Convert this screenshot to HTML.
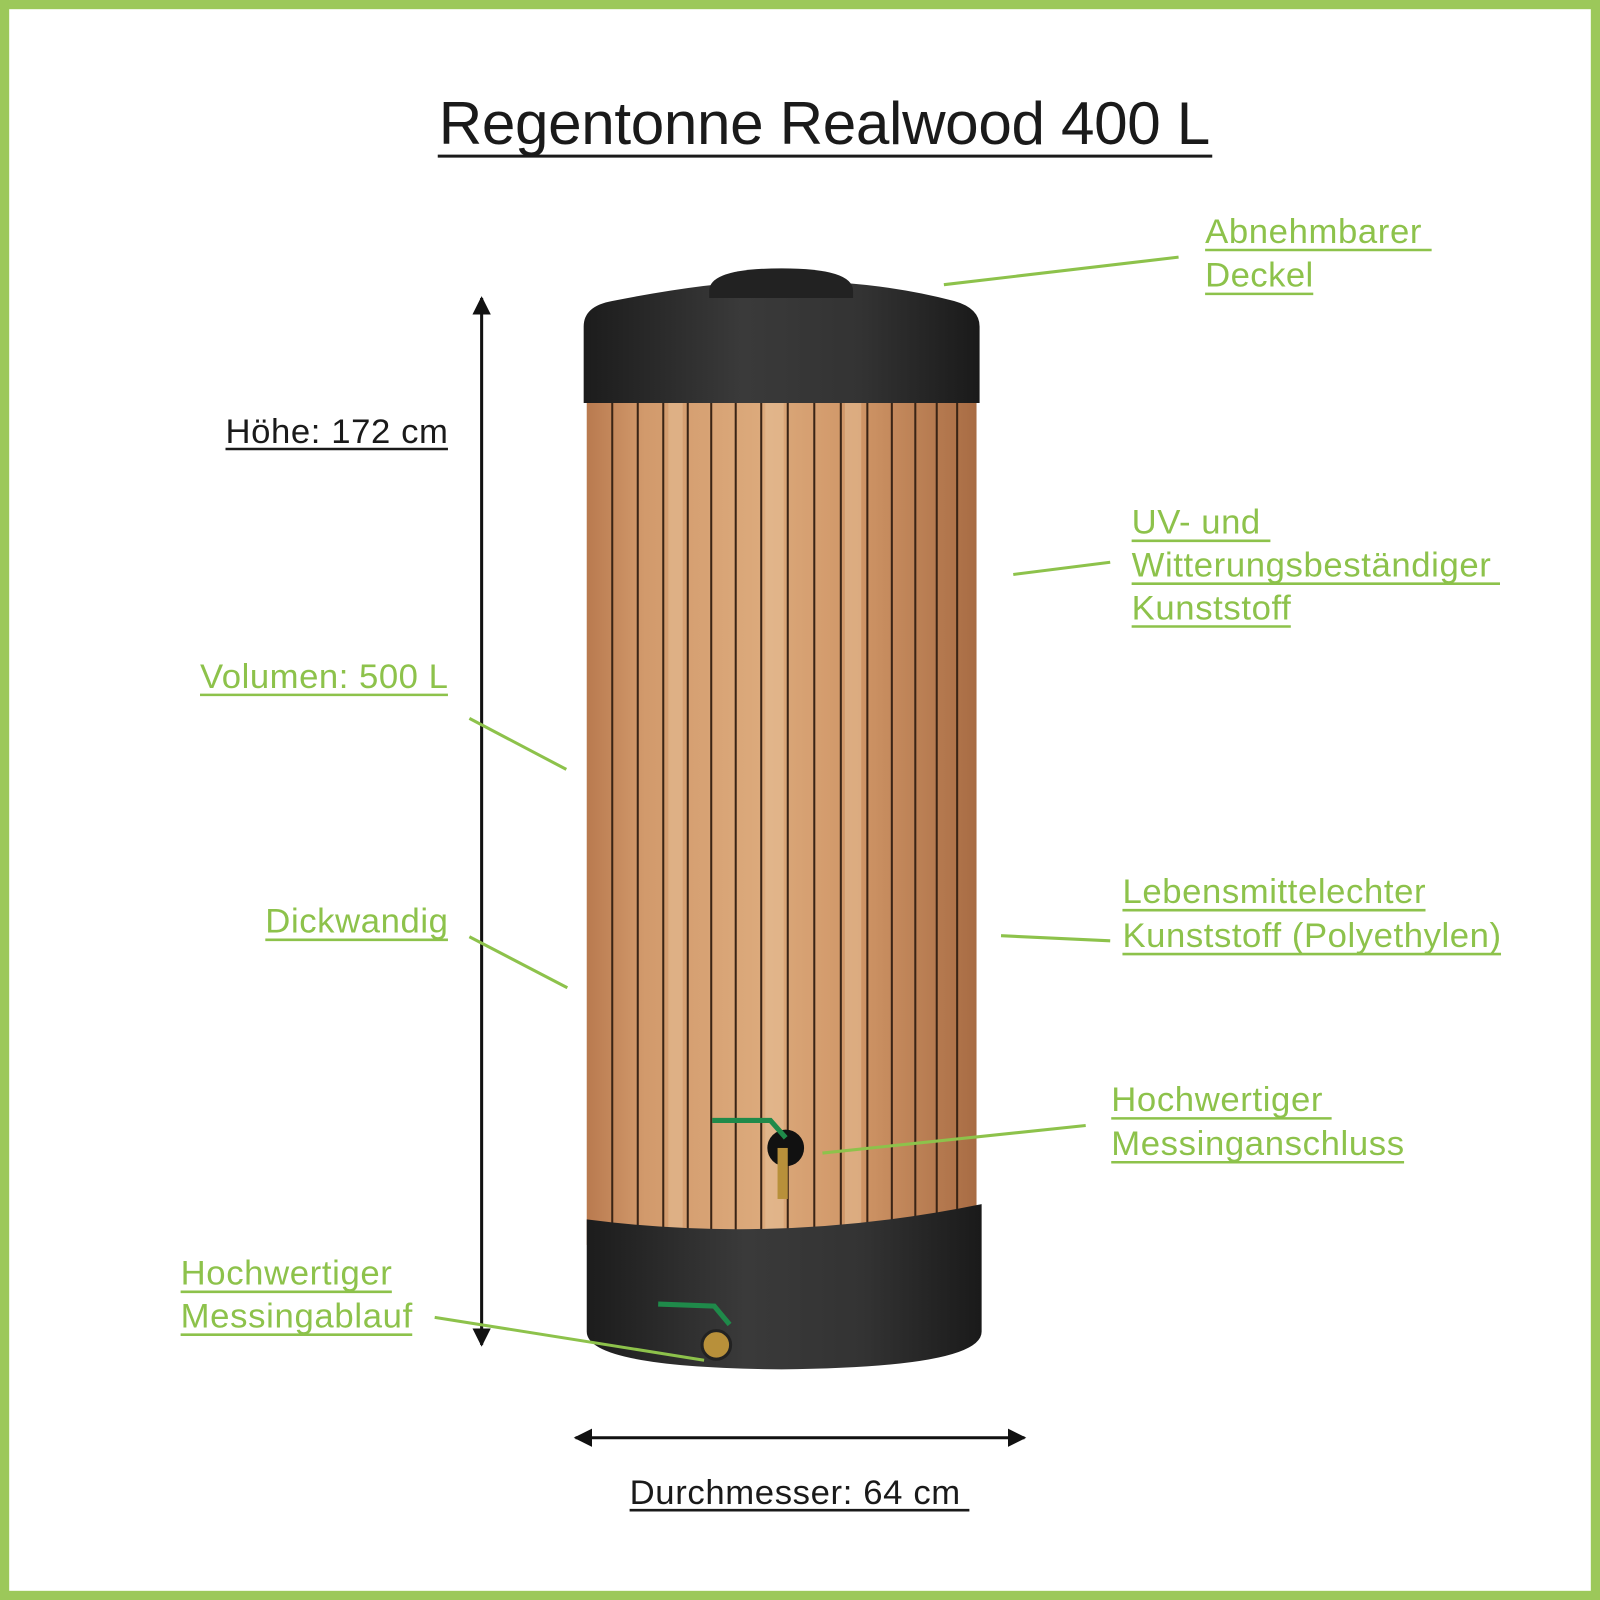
<!DOCTYPE html>
<html><head><meta charset="utf-8"><style>
html,body{margin:0;padding:0;background:#fff}
svg{display:block}
text{font-family:"Liberation Sans",Arial,sans-serif}
</style></head><body>
<svg width="1600" height="1600" viewBox="0 0 1568 1568" xmlns="http://www.w3.org/2000/svg">
<defs>
<linearGradient id="wood" x1="0" x2="1" y1="0" y2="0">
<stop offset="0" stop-color="#b97a4f"/><stop offset="0.15" stop-color="#d29a6c"/>
<stop offset="0.45" stop-color="#dcaa7c"/><stop offset="0.7" stop-color="#cf9566"/>
<stop offset="1" stop-color="#a86c44"/></linearGradient>
<linearGradient id="blk" x1="0" x2="1"><stop offset="0" stop-color="#1c1c1c"/><stop offset="0.4" stop-color="#3a3a3a"/><stop offset="0.7" stop-color="#333"/><stop offset="1" stop-color="#1a1a1a"/></linearGradient>
<marker id="ah" viewBox="0 0 10 10" refX="9" refY="5" markerWidth="6" markerHeight="6" orient="auto-start-reverse"><path d="M0,0 L10,5 L0,10 z" fill="#111"/></marker>
</defs>
<rect x="4.5" y="4.5" width="1559" height="1559" fill="#fff" stroke="#9cc85a" stroke-width="9"/>
<text x="808" y="141" font-size="59" text-anchor="middle" fill="#1a1a1a" textLength="756">Regentonne Realwood 400 L</text>
<line x1="429" y1="153" x2="1188" y2="153" stroke="#1a1a1a" stroke-width="3"/>

<rect x="575" y="390" width="382" height="830" fill="url(#wood)"/>
<g stroke="#3a2415" stroke-width="2">
<line x1="600" y1="393" x2="600" y2="1215"/><line x1="625" y1="393" x2="625" y2="1215"/>
<line x1="650" y1="393" x2="650" y2="1215"/><line x1="674" y1="393" x2="674" y2="1215"/>
<line x1="697" y1="393" x2="697" y2="1215"/><line x1="721" y1="393" x2="721" y2="1215"/>
<line x1="746" y1="393" x2="746" y2="1215"/><line x1="772" y1="393" x2="772" y2="1215"/>
<line x1="798" y1="393" x2="798" y2="1215"/><line x1="824" y1="393" x2="824" y2="1215"/>
<line x1="850" y1="393" x2="850" y2="1215"/><line x1="874" y1="393" x2="874" y2="1215"/>
<line x1="897" y1="393" x2="897" y2="1215"/><line x1="918" y1="393" x2="918" y2="1215"/>
<line x1="938" y1="393" x2="938" y2="1215"/>
</g>
<g fill="#e8c29a" opacity="0.5"><rect x="750" y="393" width="18" height="820"/><rect x="655" y="393" width="14" height="820"/><rect x="828" y="393" width="16" height="820"/></g>
<path d="M572,395 L572,320 Q572,300 600,295 Q700,275 766,275 Q860,275 935,295 Q960,302 960,320 L960,395 Z" fill="url(#blk)"/>
<path d="M695,285 Q695,263 766,263 Q836,263 836,285 L836,292 L695,292 Z" fill="#222"/>
<path d="M575,1195 Q766,1220 962,1180 L962,1305 Q962,1340 766,1342 Q575,1340 575,1305 Z" fill="url(#blk)"/>
<circle cx="770" cy="1125" r="18" fill="#111"/>
<rect x="762" y="1125" width="10" height="50" fill="#b8903a"/>
<path d="M698,1098 L755,1098 L770,1115" stroke="#1f8a4a" stroke-width="5" fill="none"/>
<circle cx="702" cy="1318" r="14" fill="#b8903a" stroke="#222" stroke-width="3"/>
<path d="M645,1278 L700,1280 L715,1298" stroke="#1f8a4a" stroke-width="5" fill="none"/>

<line x1="472" y1="292" x2="472" y2="1318" stroke="#111" stroke-width="3" marker-start="url(#ah)" marker-end="url(#ah)"/>
<line x1="564" y1="1409" x2="1004" y2="1409" stroke="#111" stroke-width="3" marker-start="url(#ah)" marker-end="url(#ah)"/>

<g stroke="#8dc24b" stroke-width="3">
<line x1="925" y1="279" x2="1155" y2="252"/>
<line x1="993" y1="563" x2="1088" y2="551"/>
<line x1="981" y1="917" x2="1088" y2="922"/>
<line x1="806" y1="1130" x2="1064" y2="1103"/>
<line x1="460" y1="704" x2="555" y2="754"/>
<line x1="460" y1="918" x2="556" y2="968"/>
<line x1="426" y1="1291" x2="690" y2="1333"/>
</g>

<g font-size="34" fill="#8dc24b">
<text x="1181" y="238" textLength="212">Abnehmbarer</text><text x="1181" y="281" textLength="106">Deckel</text>
<text x="1109" y="523" textLength="126">UV- und</text><text x="1109" y="565" textLength="352">Witterungsbeständiger</text><text x="1109" y="607" textLength="156">Kunststoff</text>
<text x="1100" y="885" textLength="297">Lebensmittelechter</text><text x="1100" y="928" textLength="371">Kunststoff (Polyethylen)</text>
<text x="1089" y="1089" textLength="207">Hochwertiger</text><text x="1089" y="1132" textLength="287">Messinganschluss</text>
<text x="196" y="674" textLength="243">Volumen: 500 L</text>
<text x="260" y="914" textLength="179">Dickwandig</text>
<text x="177" y="1259" textLength="207">Hochwertiger</text><text x="177" y="1301" textLength="227">Messingablauf</text>
</g>
<g stroke="#8dc24b" stroke-width="2.5">
<line x1="1181" y1="245" x2="1403" y2="245"/><line x1="1181" y1="288" x2="1287" y2="288"/>
<line x1="1109" y1="530" x2="1245" y2="530"/><line x1="1109" y1="572" x2="1470" y2="572"/><line x1="1109" y1="614" x2="1265" y2="614"/>
<line x1="1100" y1="892" x2="1397" y2="892"/><line x1="1100" y1="935" x2="1471" y2="935"/>
<line x1="1089" y1="1096" x2="1305" y2="1096"/><line x1="1089" y1="1139" x2="1376" y2="1139"/>
<line x1="196" y1="681" x2="439" y2="681"/><line x1="260" y1="921" x2="439" y2="921"/>
<line x1="177" y1="1266" x2="384" y2="1266"/><line x1="177" y1="1308" x2="404" y2="1308"/>
</g>
<g font-size="34" fill="#1a1a1a">
<text x="221" y="434" textLength="218">Höhe: 172 cm</text>
<text x="617" y="1474" textLength="324">Durchmesser: 64 cm</text>
</g>
<g stroke="#1a1a1a" stroke-width="2.5">
<line x1="221" y1="440" x2="439" y2="440"/><line x1="617" y1="1480" x2="950" y2="1480"/>
</g>
</svg>
</body></html>
